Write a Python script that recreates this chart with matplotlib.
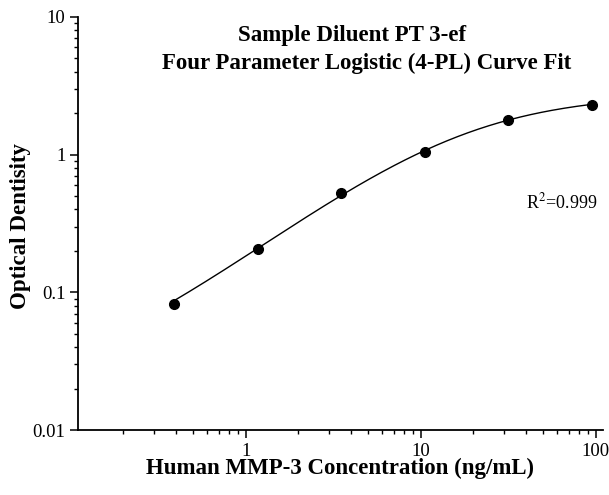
import numpy as np
import matplotlib
matplotlib.use('Agg')
import matplotlib.pyplot as plt
from matplotlib.ticker import LogLocator, FixedLocator, FixedFormatter, NullFormatter

# standard curve
concentration = [0.39, 1.17, 3.52, 10.55, 31.6, 94.9]
optical_density = [0.083, 0.205, 0.527, 1.046, 1.796, 2.31]
r_squared = '0.999'

x_ticks = [1, 10, 100]
x_tick_labels = ['1', '10', '100']
y_ticks = [0.01, 0.1, 1, 10]
y_tick_labels = ['0.01', '0.1', '1', '10']


def four_pl(x, p):
    a, b, logc, logd = p
    return np.exp(logd) + (a - np.exp(logd)) / (1 + (x / np.exp(logc)) ** b)


def fit_four_pl(x, y):
    """Small Levenberg-Marquardt fit of the 4-PL curve to the points."""
    x = np.asarray(x, float)
    y = np.asarray(y, float)
    p = np.array([0.0, 1.0, np.log(10.0), np.log(3.0)])
    lam = 1e-2
    for _ in range(500):
        r = y - four_pl(x, p)
        J = np.zeros((len(x), len(p)))
        for k in range(len(p)):
            dp = np.zeros_like(p)
            dp[k] = 1e-6
            J[:, k] = (four_pl(x, p + dp) - four_pl(x, p - dp)) / 2e-6
        A = J.T @ J
        step = np.linalg.solve(A + lam * np.diag(np.diag(A)), J.T @ r)
        new_p = p + step
        if np.sum((y - four_pl(x, new_p)) ** 2) < np.sum(r ** 2):
            p = new_p
            lam *= 0.5
        else:
            lam *= 4
    return p


params = fit_four_pl(concentration, optical_density)
x_fit = np.logspace(np.log10(concentration[0]), np.log10(concentration[-1]), 200)
y_fit = four_pl(x_fit, params)

plt.rcParams['font.family'] = ['Liberation Serif', 'DejaVu Serif']
plt.rcParams['mathtext.fontset'] = 'stix'

fig = plt.figure(figsize=(6.09, 4.95), dpi=100)
ax = fig.add_axes([0.128, 0.131, 0.862, 0.835])

ax.plot(x_fit, y_fit, color='black', linewidth=1.0)
ax.plot(concentration, optical_density, 'o', color='black', markersize=7)

ax.set_xscale('log')
ax.set_yscale('log')
ax.set_xlim(0.11, 110)
ax.set_ylim(0.01, 10)

for side in ['top', 'right']:
    ax.spines[side].set_visible(False)
for side in ['left', 'bottom']:
    ax.spines[side].set_linewidth(1.3)

ax.xaxis.set_major_locator(FixedLocator(x_ticks))
ax.xaxis.set_major_formatter(FixedFormatter(x_tick_labels))
ax.yaxis.set_major_locator(FixedLocator(y_ticks))
ax.yaxis.set_major_formatter(FixedFormatter(y_tick_labels))
ax.xaxis.set_minor_locator(LogLocator(base=10, subs=np.arange(2, 10), numticks=20))
ax.yaxis.set_minor_locator(LogLocator(base=10, subs=np.arange(2, 10), numticks=20))
ax.xaxis.set_minor_formatter(NullFormatter())
ax.yaxis.set_minor_formatter(NullFormatter())
ax.tick_params(which='major', direction='out', length=6, width=1.1, labelsize=13.5, pad=3)
ax.tick_params(which='minor', direction='out', length=3, width=1.0)

ax.set_xlabel('Human MMP-3 Concentration (ng/mL)', fontsize=16.5, fontweight='bold', labelpad=-1)
fig.text(21 / 609, 1 - 226 / 495, 'Optical Dentisity', fontsize=16.5, fontweight='bold',
         rotation=90, ha='center', va='center')

fig.text(352 / 609, 1 - 35 / 495, 'Sample Diluent PT 3-ef', fontsize=16.5, fontweight='bold',
         ha='center', va='center')
fig.text(366.5 / 609, 1 - 63 / 495, 'Four Parameter Logistic (4-PL) Curve Fit', fontsize=16.5,
         fontweight='bold', ha='center', va='center')

ax.text(0.99, 0.552, r'R$^2$=' + r_squared, transform=ax.transAxes, fontsize=13,
        ha='right', va='center')

fig.savefig('out.png', dpi=100)
